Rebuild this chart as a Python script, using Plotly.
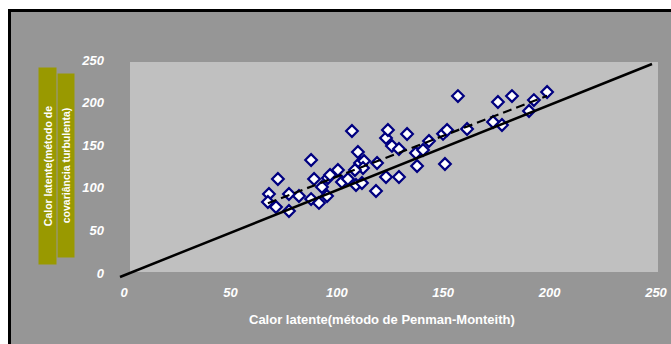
import numpy as np
import plotly.graph_objects as go

# Latent heat: Penman-Monteith estimate (x) vs. measured (y)
pm_values = [70.0, 69.5, 73.3, 74.2, 79.4, 79.4, 84.1, 89.8, 91.2, 89.8,
             93.5, 94.9, 97.3, 97.7, 98.7, 102.4, 104.3, 107.1, 109.0, 110.9,
             113.7, 111.8, 112.8, 114.7, 114.2, 120.8, 120.3, 125.0, 125.0, 125.9,
             127.8, 131.1, 131.1, 134.9, 139.1, 139.6, 142.4, 145.2, 152.7, 151.8,
             153.7, 158.8, 163.1, 175.3, 177.6, 179.5, 184.2, 192.2, 194.5, 200.7,
             110.4]
measured_values = [97.4, 88.0, 82.2, 115.0, 97.4, 77.5, 95.1, 137.3, 115.0, 91.5,
                   86.9, 105.6, 95.1, 116.2, 119.7, 125.6, 111.5, 115.0, 171.4, 108.0,
                   110.3, 146.7, 133.8, 136.2, 127.9, 133.8, 100.9, 117.4, 163.1, 172.5,
                   153.8, 150.2, 117.4, 167.8, 145.5, 130.3, 149.1, 159.6, 132.6, 168.0,
                   172.5, 212.4, 173.7, 181.9, 205.4, 178.4, 212.4, 194.8, 207.7, 217.1,
                   125.6]

axis_ticks = [0, 50, 100, 150, 200, 250]
identity_line = [0, 250]

x_arr = np.array(pm_values)
y_arr = np.array(measured_values)
slope, intercept = np.polyfit(x_arr, y_arr, 1)
trend_x = np.array([x_arr.min(), x_arr.max()])
trend_y = slope * trend_x + intercept

W, H = 671, 344
L, R, T, B = 112, 11, 60, 64
pw, ph = W - L - R, H - T - B


def px_x(p):
    return (p - L) / pw


def px_y(p):
    return (H - B - p) / ph


fig = go.Figure()

# markers first, the 1:1 line and linear trend are drawn over them
fig.add_trace(go.Scatter(
    x=pm_values, y=measured_values, mode="markers",
    marker=dict(symbol="diamond", size=9, color="white",
                line=dict(color="#000080", width=2.2)),
    showlegend=False))

fig.add_trace(go.Scatter(
    x=identity_line, y=identity_line, mode="lines",
    line=dict(color="black", width=2.5), cliponaxis=False,
    hoverinfo="skip", showlegend=False))

fig.add_trace(go.Scatter(
    x=trend_x, y=trend_y, mode="lines",
    line=dict(color="black", width=2.2, dash="9px,5px"),
    hoverinfo="skip", showlegend=False))

tick_font = dict(family="Liberation Sans", size=13, color="white",
                 weight="bold", style="italic")

fig.update_xaxes(range=[-(120 - L) / 2.128, 250 + (L + pw - 652) / 2.128],
                 tickvals=axis_ticks, ticktext=[str(v) for v in axis_ticks],
                 showgrid=False, zeroline=False, showline=False, ticks="",
                 tickfont=tick_font, ticklabelstandoff=3, ticklabelshift=4,
                 automargin=False)
fig.update_yaxes(range=[-(H - B - 277) / 0.852, 250 + (64 - T) / 0.852],
                 tickvals=axis_ticks, ticktext=[str(v) for v in axis_ticks],
                 showgrid=False, zeroline=False, showline=False, ticks="",
                 tickfont=tick_font, ticklabelstandoff=7, ticklabelshift=-4,
                 automargin=False)

shapes = [
    # outer chart area with black frame
    dict(type="rect", xref="paper", yref="paper", layer="below",
         x0=px_x(9.5), x1=px_x(690), y0=px_y(360), y1=px_y(10.5),
         fillcolor="#969696", line=dict(color="black", width=3)),
    # plot area
    dict(type="rect", xref="paper", yref="paper", layer="below",
         x0=px_x(130), x1=px_x(658), y0=px_y(272), y1=px_y(62),
         fillcolor="#c0c0c0", line=dict(width=0)),
]

title_font = dict(family="Liberation Sans", size=13, color="white", weight="bold")
label_font = dict(family="Liberation Sans", size=10.5, color="white", weight="bold")

annotations = [
    dict(text="Calor latente(método de Penman-Monteith)", xref="paper", yref="paper",
         x=px_x(382), y=px_y(319), xanchor="center", yanchor="middle",
         showarrow=False, font=title_font),
    dict(text="Calor latente(método de", xref="paper", yref="paper",
         x=px_x(47), y=px_y(166), xanchor="center", yanchor="middle",
         textangle=-90, showarrow=False, font=label_font,
         bgcolor="#999900", width=194, height=15, borderpad=1),
    dict(text="covariância turbulenta)", xref="paper", yref="paper",
         x=px_x(66), y=px_y(166), xanchor="center", yanchor="middle",
         textangle=-90, showarrow=False, font=label_font,
         bgcolor="#999900", width=181, height=14, borderpad=1),
]

fig.update_layout(
    width=W, height=H,
    margin=dict(l=L, r=R, t=T, b=B),
    paper_bgcolor="white", plot_bgcolor="rgba(0,0,0,0)",
    shapes=shapes, annotations=annotations,
)

fig.write_html("out.html")
